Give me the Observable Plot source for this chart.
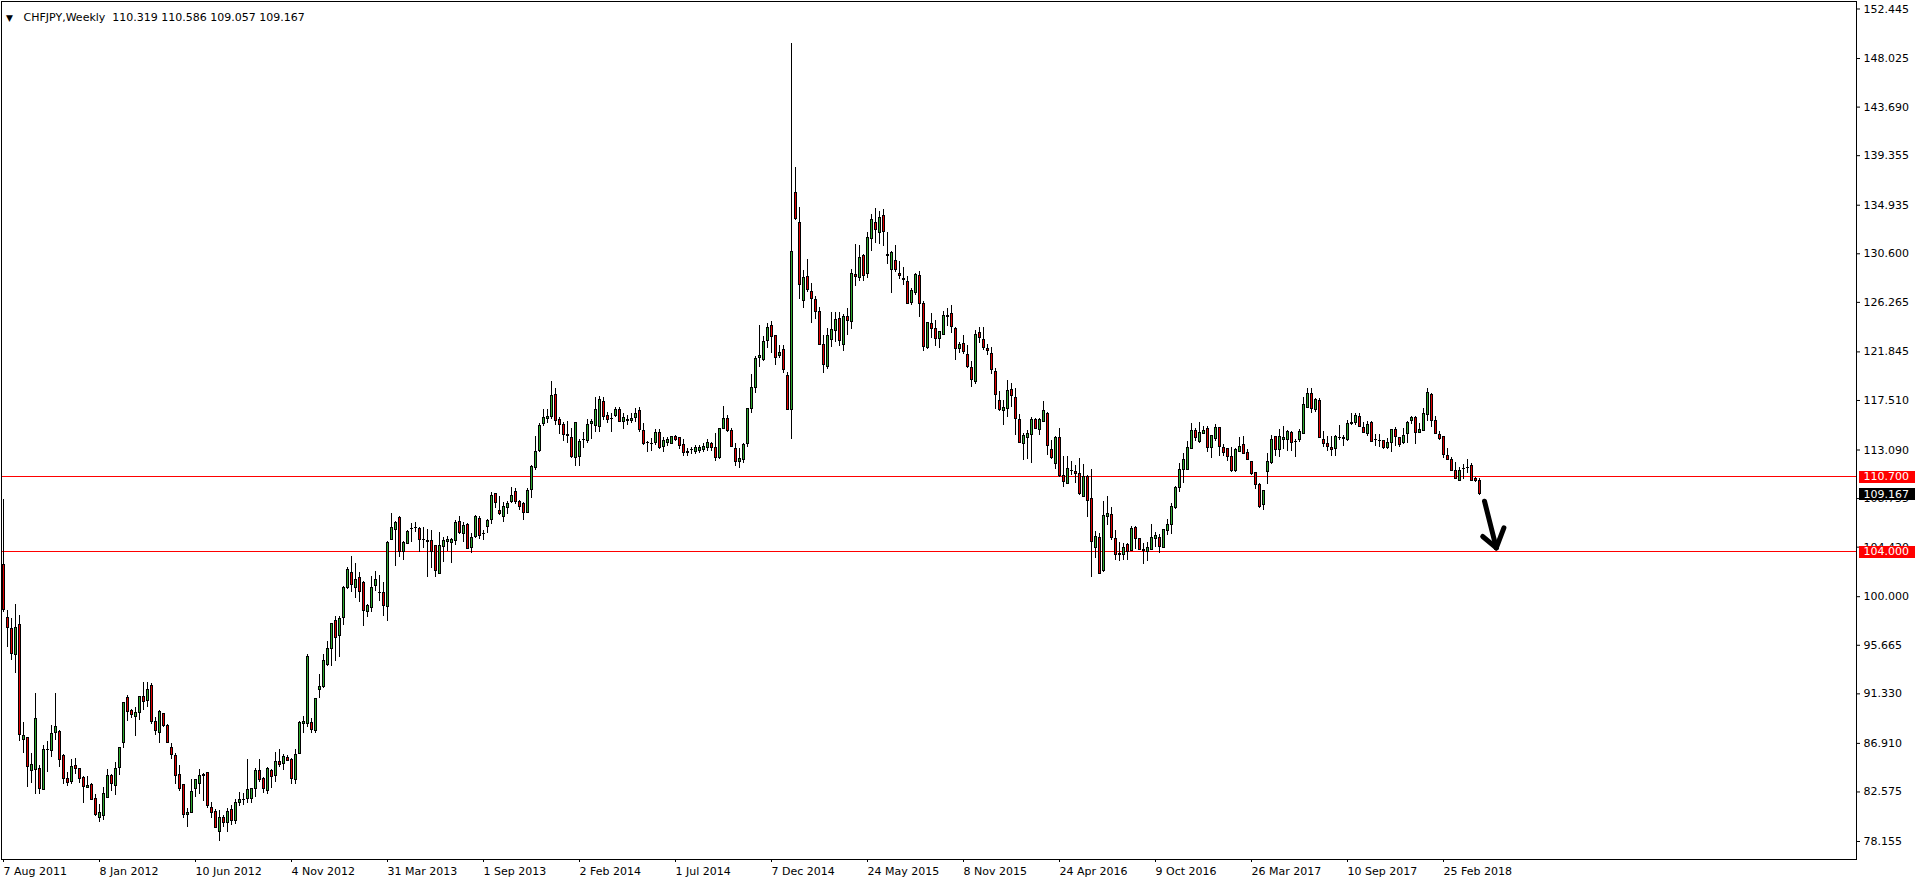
<!DOCTYPE html>
<html>
<head>
<meta charset="utf-8">
<script src="https://cdn.jsdelivr.net/npm/d3@7"></script>
<script src="https://cdn.jsdelivr.net/npm/@observablehq/plot@0.6"></script>
<style>
html, body { margin: 0; padding: 0; background: #fff; }
#chart svg text { white-space: pre; }
</style>
</head>
<body>
<div id="chart"></div>
<script>
// ---- chart texts ----
const symbolTitle = "CHFJPY,Weekly";
const lastQuote = [110.319, 110.586, 109.057, 109.167];
const dateLabels = ["7 Aug 2011","8 Jan 2012","10 Jun 2012","4 Nov 2012","31 Mar 2013","1 Sep 2013","2 Feb 2014","1 Jul 2014","7 Dec 2014","24 May 2015","8 Nov 2015","24 Apr 2016","9 Oct 2016","26 Mar 2017","10 Sep 2017","25 Feb 2018"];
const barsPerDateLabel = 24;
const priceTicks = [152.445,148.025,143.690,139.355,134.935,130.600,126.265,121.845,117.510,113.090,108.755,104.420,100.000,95.665,91.330,86.910,82.575,78.155];
const levelLines = [110.700, 104.000];
const currentPrice = 109.167;

// ---- weekly OHLC (bar by bar) ----
const openP = [
102.84,98.14,97.13,94.81,97.49,87.20,87.38,84.46,84.52,84.58,
82.74,86.36,86.25,87.85,87.97,85.74,83.75,83.45,84.85,84.58,
83.81,82.91,83.24,81.99,80.27,80.45,82.08,83.98,83.12,84.70,
86.93,91.00,89.76,89.25,89.64,91.09,90.71,92.05,88.86,87.85,
89.49,88.42,86.54,85.74,84.13,83.18,80.50,80.68,82.85,83.30,
84.01,84.25,81.16,80.83,79.02,80.27,79.82,80.98,80.00,81.60,
81.88,81.96,81.96,82.85,84.49,83.75,82.68,84.46,83.96,85.29,
85.06,85.62,85.44,83.66,85.92,88.63,88.63,88.74,88.00,91.66,
91.90,93.92,95.32,97.79,96.51,98.11,100.76,102.13,100.82,101.71,
101.24,98.65,99.01,100.97,100.32,100.37,99.10,105.07,105.97,106.98,
104.03,104.72,106.00,106.12,106.03,105.04,104.99,104.99,104.48,102.04,
104.45,104.87,104.81,104.99,106.68,105.61,106.41,104.36,105.34,106.95,
105.59,106.23,106.86,109.18,107.66,107.10,107.90,108.44,109.33,108.47,
108.29,107.48,109.54,111.50,113.02,115.40,115.84,116.05,118.01,115.78,
115.34,114.44,114.18,112.39,112.45,113.98,113.88,115.40,115.19,115.16,
117.39,116.11,115.89,116.14,116.68,115.60,115.81,115.72,115.93,116.53,
114.80,113.75,113.62,113.73,114.62,113.37,113.73,113.67,114.21,114.12,
113.55,112.85,113.10,112.95,113.00,113.05,113.28,113.67,113.28,112.40,
114.98,115.87,114.83,113.20,112.00,112.20,113.64,116.74,118.64,121.28,
121.08,122.80,124.17,123.22,121.49,122.03,119.70,116.67,136.04,133.36,
126.40,128.54,127.17,126.52,125.45,122.44,120.54,122.89,123.75,124.79,
122.47,124.97,124.53,128.72,128.46,130.36,128.81,131.94,133.36,132.47,
133.93,130.45,129.17,129.97,128.81,128.37,128.04,126.22,127.09,128.63,
126.08,122.21,124.35,123.90,122.98,123.37,125.09,125.24,123.93,122.09,
122.57,121.58,120.42,119.14,123.55,122.92,122.12,121.67,120.07,117.48,
116.59,116.77,118.46,117.75,115.78,113.64,114.15,114.44,115.78,114.89,
115.57,116.32,113.11,111.86,114.18,110.79,110.07,111.22,111.14,110.96,
108.91,110.67,108.73,104.36,105.25,102.25,107.10,107.31,105.16,103.85,
103.74,104.63,104.09,106.15,105.16,104.15,104.00,104.21,105.16,105.28,
104.36,105.88,106.41,107.93,109.72,111.35,111.32,113.19,114.77,113.79,
114.50,114.98,113.25,114.09,115.01,113.28,113.14,112.51,111.20,112.87,
113.55,112.84,112.06,111.02,110.01,108.20,111.11,111.89,114.24,113.11,
113.97,114.00,114.65,113.84,113.94,114.53,116.85,118.10,116.65,117.42,
113.94,113.67,113.28,113.17,114.15,114.18,114.00,115.43,115.52,116.05,
115.01,114.53,115.54,113.95,113.92,113.85,113.25,113.73,114.92,114.15,
113.70,114.50,115.66,115.96,114.65,114.83,116.23,118.01,115.69,114.44,
114.21,112.54,112.21,111.26,110.34,111.38,111.45,111.68,110.46,110.319];

const highP = [
108.67,98.77,98.02,99.30,98.32,88.74,87.47,85.98,91.36,84.94,
86.69,87.08,88.51,91.36,88.06,85.92,84.28,85.47,85.56,84.70,
83.96,83.96,83.30,82.35,81.46,82.97,84.58,84.13,85.20,86.57,
90.50,91.21,89.90,90.08,91.12,92.34,92.34,92.25,89.19,89.84,
89.61,88.57,86.87,86.04,84.94,83.24,81.13,83.69,83.69,84.58,
84.19,84.28,81.63,81.01,80.92,80.47,81.07,81.37,81.90,82.50,
82.41,85.47,82.85,84.64,85.47,83.90,84.79,84.61,86.10,86.36,
85.95,85.83,85.59,86.39,88.89,89.31,94.87,89.13,90.94,93.06,
94.84,95.97,97.64,98.20,98.23,100.88,102.58,103.59,102.96,102.16,
101.36,99.27,101.77,102.22,101.89,101.27,104.90,107.42,106.68,107.19,
104.90,105.91,106.56,106.65,106.18,106.15,105.97,105.88,104.48,105.70,
105.25,105.40,105.22,106.83,107.16,106.59,106.50,105.61,107.22,107.19,
105.91,106.86,109.33,109.24,108.91,108.40,108.52,109.74,109.62,108.55,
108.44,109.62,111.68,114.33,115.49,116.71,116.71,119.20,118.55,116.02,
115.57,115.63,115.01,115.57,114.03,114.65,115.81,115.84,117.81,117.87,
117.75,116.47,116.38,116.85,116.85,116.38,116.14,116.38,116.82,116.88,
115.42,113.85,114.09,114.95,114.95,114.24,114.24,114.33,114.36,114.24,
114.00,113.25,113.34,113.50,113.45,113.64,114.00,113.79,114.59,114.98,
116.97,116.17,114.98,113.70,113.25,113.70,116.82,119.83,121.43,124.20,
123.25,124.35,124.56,123.31,122.42,122.42,119.98,149.34,138.33,134.73,
129.11,130.06,127.92,126.82,125.84,123.34,123.96,125.33,125.36,125.33,
125.18,125.70,129.17,131.43,131.34,130.57,132.50,134.11,134.61,134.37,
134.52,132.50,130.84,131.31,129.91,129.41,128.57,127.53,128.87,129.02,
126.34,124.50,125.27,124.65,123.70,125.42,125.69,125.99,124.05,122.71,
123.34,122.39,120.96,123.76,124.02,123.99,122.53,122.21,120.34,118.31,
117.48,119.26,119.03,118.58,116.29,114.53,114.83,115.99,115.90,115.93,
117.42,116.44,113.94,114.30,115.01,112.51,112.51,112.06,111.74,112.30,
111.77,110.79,111.35,105.85,105.61,108.50,108.94,107.99,105.91,104.84,
104.78,104.75,106.27,106.24,105.22,104.72,104.87,106.44,105.76,105.55,
106.03,106.89,108.32,109.84,111.86,112.81,113.82,115.43,114.98,115.57,
115.19,115.19,114.36,115.37,115.13,113.58,113.25,113.28,113.19,114.24,
114.33,113.16,112.09,111.11,110.10,109.48,112.81,114.36,114.24,114.89,
115.19,114.86,114.74,114.00,114.92,117.78,118.55,118.58,117.72,117.72,
114.74,114.27,114.27,114.36,115.28,114.42,115.72,116.38,116.38,116.38,
115.51,115.66,115.63,114.45,114.45,113.94,114.15,114.89,115.13,114.24,
114.98,115.66,116.11,116.11,115.43,116.76,118.58,118.16,116.05,114.74,
114.24,113.25,112.45,112.00,111.56,111.83,112.21,111.86,110.67,110.586];

const lowP = [
98.62,95.50,94.31,93.18,87.11,86.04,82.94,83.36,82.32,82.32,
82.68,84.34,85.62,87.20,84.79,83.21,83.06,83.24,84.13,83.30,
81.58,82.85,81.81,80.39,79.88,80.06,81.96,82.65,82.29,84.07,
86.48,88.89,89.10,87.55,88.95,89.84,90.14,88.63,87.61,86.93,
88.36,86.87,85.44,83.27,82.65,80.24,79.43,80.66,82.05,82.32,
81.75,81.13,80.18,79.28,78.18,79.43,78.99,79.58,79.70,81.28,
81.34,81.52,81.52,82.05,83.45,82.41,82.35,82.85,83.45,84.79,
84.49,85.29,83.21,83.21,85.90,87.76,88.36,87.82,87.76,90.89,
91.84,93.77,93.80,94.25,94.60,97.43,100.67,100.37,99.84,99.51,
97.37,98.17,98.59,100.49,99.57,98.26,97.82,104.98,102.72,103.50,
103.26,104.66,104.81,105.76,103.97,104.33,101.74,102.55,101.74,102.04,
103.08,104.03,103.00,104.60,105.52,104.87,104.18,103.88,105.16,105.13,
105.02,105.61,106.47,107.84,107.22,106.59,107.36,108.35,108.20,107.66,
106.77,107.42,108.79,111.23,112.90,115.22,115.49,115.84,115.28,114.44,
113.85,113.70,112.33,111.65,111.65,113.20,113.67,114.03,114.65,114.68,
115.72,115.43,114.68,116.02,115.54,114.95,115.31,115.46,115.57,114.65,
113.49,112.90,113.00,113.46,113.10,112.90,113.40,113.58,113.85,113.10,
112.55,112.50,112.70,112.70,112.80,112.85,112.95,112.95,112.10,112.20,
114.88,114.62,113.28,111.60,111.40,111.90,113.34,116.38,118.10,120.48,
120.99,122.18,121.67,120.60,121.23,119.89,116.62,114.06,133.57,126.49,
125.75,127.14,124.35,124.77,122.38,119.89,120.24,122.27,122.68,122.36,
121.91,123.27,123.87,127.71,128.16,128.16,128.43,130.84,131.55,131.46,
131.28,129.62,127.09,128.96,128.34,127.80,126.08,126.02,126.88,124.95,
121.91,122.09,123.07,122.33,122.18,123.28,124.08,123.46,121.08,121.73,
121.61,120.39,118.70,118.97,122.59,121.99,121.52,119.83,116.71,116.56,
115.31,116.02,116.85,114.38,113.64,112.18,112.27,111.86,114.89,114.38,
115.54,112.60,112.24,111.38,110.64,109.77,110.01,110.79,110.13,109.06,
108.82,107.09,101.68,103.44,101.98,102.19,106.35,104.99,103.23,103.14,
103.20,103.26,104.03,104.21,104.09,102.84,103.11,104.12,104.39,103.88,
104.27,105.49,105.52,107.78,109.33,110.07,111.26,113.10,113.82,113.70,
114.44,112.84,112.30,113.88,112.51,112.51,112.09,111.05,111.11,112.84,
112.69,112.15,110.79,109.54,107.84,107.69,109.98,111.80,112.54,112.45,
113.11,112.99,112.93,112.45,113.79,114.53,116.85,116.38,116.47,114.09,
113.34,112.93,112.48,112.48,113.94,113.37,113.88,115.28,115.28,115.07,
114.53,114.33,113.73,113.37,113.34,113.14,113.17,112.90,113.43,113.28,
113.58,113.64,115.34,113.61,114.59,114.80,115.66,115.13,114.47,113.94,
112.30,112.18,111.14,110.43,110.31,110.46,111.02,110.28,110.19,109.057];

const closeP = [
98.77,97.22,94.90,97.25,87.64,87.58,84.82,85.00,89.13,82.85,
86.36,86.33,87.79,88.39,85.44,83.75,83.39,84.76,84.61,83.75,
83.03,83.15,81.87,80.53,80.74,82.35,83.96,83.30,84.58,86.48,
90.47,89.70,89.46,89.58,91.09,90.62,91.63,88.80,88.03,89.67,
88.45,86.93,85.86,84.01,82.85,80.53,80.74,82.53,83.60,84.04,
84.10,81.34,80.71,79.34,80.27,79.82,80.83,80.00,81.63,81.90,
81.86,82.77,82.80,84.49,83.63,82.85,84.58,83.93,85.29,85.00,
85.71,85.38,83.75,85.83,88.77,88.86,94.66,88.12,90.89,91.90,
94.22,95.32,97.58,96.33,98.05,100.82,102.34,101.06,101.48,100.40,
98.74,99.13,100.82,101.45,100.30,99.16,104.78,106.15,106.56,104.03,
104.78,105.79,106.03,106.15,105.04,105.06,104.84,103.97,102.31,104.54,
104.99,105.07,105.02,106.59,105.67,106.35,104.24,105.28,107.13,105.43,
105.61,106.77,109.00,108.38,107.36,108.02,108.29,109.00,108.44,107.99,
107.45,109.45,111.59,112.93,115.25,115.96,116.05,117.92,115.66,115.34,
114.41,114.32,112.45,115.52,113.82,114.00,115.34,115.63,116.68,117.57,
116.02,115.75,115.87,116.65,115.60,115.96,115.66,115.90,116.32,114.89,
113.64,113.76,113.64,114.62,113.28,113.88,113.97,114.27,113.94,113.46,
112.85,112.95,113.13,113.28,113.28,113.40,113.73,113.28,112.40,114.98,
115.90,114.83,113.34,112.00,112.30,113.55,116.71,118.64,121.23,121.49,
122.74,124.02,123.19,121.28,121.79,120.22,116.70,130.80,133.72,127.80,
128.40,127.35,126.55,125.39,122.44,120.69,123.22,123.81,124.70,122.80,
124.94,124.61,128.81,128.51,130.24,128.60,132.02,133.63,132.74,133.81,
132.53,130.43,130.69,129.14,128.60,128.22,126.11,127.30,128.75,126.11,
122.27,124.44,123.87,122.98,123.64,125.06,124.94,124.05,122.12,122.42,
121.82,120.48,119.32,123.37,123.10,122.18,121.91,120.25,117.98,116.65,
116.88,118.37,117.89,115.84,113.73,114.30,114.53,115.81,114.95,115.81,
116.59,113.43,112.39,114.12,110.73,110.22,111.41,111.25,110.96,109.15,
110.70,108.55,104.87,105.34,102.04,107.22,107.39,105.22,103.74,103.74,
104.36,104.03,106.06,105.16,104.15,104.12,104.36,105.25,105.43,104.45,
105.97,106.41,107.99,109.66,111.35,112.21,113.31,114.80,114.18,114.62,
114.83,113.28,114.30,115.07,113.37,112.84,112.48,111.26,113.11,113.37,
112.75,112.21,110.96,109.98,107.96,109.45,112.04,114.00,113.11,114.24,
114.18,114.71,113.76,113.82,114.74,117.12,118.10,116.71,117.51,114.15,
113.64,113.37,113.08,114.21,114.14,114.09,115.43,115.54,116.14,115.16,
114.62,115.28,113.79,113.94,113.91,113.28,113.76,114.89,114.24,113.58,
114.36,115.52,115.96,114.59,114.89,116.32,118.19,115.66,114.50,114.06,
112.66,112.21,111.26,110.49,111.26,111.37,111.47,110.34,110.34,109.167];

// hand-drawn arrow, in (bar index, price) coordinates
const arrowBar   = [370.25, 373.2, 369.8, 373.2, 375.1, 373.2];
const arrowPrice = [108.52, 104.36, 105.37, 104.36, 106.15, 104.36];
const arrowStroke = [0, 0, 1, 1, 2, 2];

// ---- styles ----
const bullColor = "#2ea82e";
const bearColor = "#e00000";
const levelColor = "#ff0000";

const bars = openP.map((o, i) => ({i, open: o, high: highP[i], low: lowP[i], close: closeP[i]}));
const bull = bars.filter(d => d.close >= d.open);
const bear = bars.filter(d => d.close < d.open);
const arrow = arrowBar.map((x, k) => ({x, y: arrowPrice[k], s: arrowStroke[k]}));
const fmt3 = d3.format(".3f");
const dateTickIdx = dateLabels.map((_, k) => k * barsPerDateLabel);
const headline = symbolTitle + "  " + lastQuote.map(fmt3).join(" ");
const tags = [
  {value: levelLines[0], bg: levelColor},
  {value: currentPrice, bg: "black"},
  {value: levelLines[1], bg: levelColor}
];

const plot = Plot.plot({
  width: 1916,
  height: 884,
  marginTop: 1,
  marginBottom: 25,
  marginLeft: 1,
  marginRight: 60,
  style: {fontFamily: "'DejaVu Sans', sans-serif", fontSize: "11px", background: "white", color: "black", overflow: "visible"},
  x: {type: "linear", domain: [-0.5, 463.25], axis: null},
  y: {type: "linear", domain: [76.548, 153.114], axis: null},
  marks: [
    Plot.axisY(priceTicks, {anchor: "right", tickFormat: fmt3, tickSize: 3, tickPadding: 4, fontSize: 11}),
    Plot.axisX(dateTickIdx, {anchor: "bottom", tickFormat: d => dateLabels[Math.round(d / barsPerDateLabel)], tickSize: 3, tickPadding: 5, textAnchor: "start", fontSize: 11}),
    Plot.ruleY(levelLines, {stroke: levelColor, strokeWidth: 1, shapeRendering: "crispEdges"}),
    Plot.ruleX(bars, {x: "i", y1: "low", y2: "high", stroke: "black", strokeWidth: 1, shapeRendering: "crispEdges"}),
    Plot.rect(bull, {x1: d => d.i - 0.25, x2: d => d.i + 0.25, y1: "open", y2: "close", fill: bullColor, stroke: "black", strokeWidth: 1, shapeRendering: "crispEdges"}),
    Plot.rect(bear, {x1: d => d.i - 0.25, x2: d => d.i + 0.25, y1: "open", y2: "close", fill: bearColor, stroke: "black", strokeWidth: 1, shapeRendering: "crispEdges"}),
    Plot.line(arrow, {x: "x", y: "y", z: "s", stroke: "black", strokeWidth: 5, strokeLinecap: "round", strokeLinejoin: "round"}),
    Plot.frame({stroke: "black", shapeRendering: "crispEdges"}),
    Plot.text(["\u25BC"], {frameAnchor: "top-left", dx: 8, dy: 13, textAnchor: "middle", fontSize: 9, fill: "black"}),
    Plot.text([headline], {frameAnchor: "top-left", dx: 22, dy: 12, textAnchor: "start", fontSize: 11, fill: "black"}),
    Plot.text(tags, {y: "value", text: d => fmt3(d.value), frameAnchor: "right", dx: 7, textAnchor: "start", fontSize: 11, fill: "white"})
  ]
});

document.getElementById("chart").append(plot);

// backgrounds behind the price tags
const tagBg = new Map(tags.map(t => [fmt3(t.value), t.bg]));
const ns = "http://www.w3.org/2000/svg";
plot.querySelectorAll("g[fill='white'] text").forEach(t => {
  const color = tagBg.get(t.textContent);
  if (!color) return;
  const bb = t.getBBox();
  const m = t.getCTM();
  const cy = m.f + bb.y + bb.height / 2;
  const x0 = m.e + bb.x - 5;
  const r = document.createElementNS(ns, "rect");
  r.setAttribute("x", Math.round(x0));
  r.setAttribute("y", Math.round(cy - 6));
  r.setAttribute("width", Math.round(bb.width + 10));
  r.setAttribute("height", 12);
  r.setAttribute("fill", color);
  const g = t.closest("g");
  g.parentNode.insertBefore(r, g);
});
</script>
</body>
</html>
